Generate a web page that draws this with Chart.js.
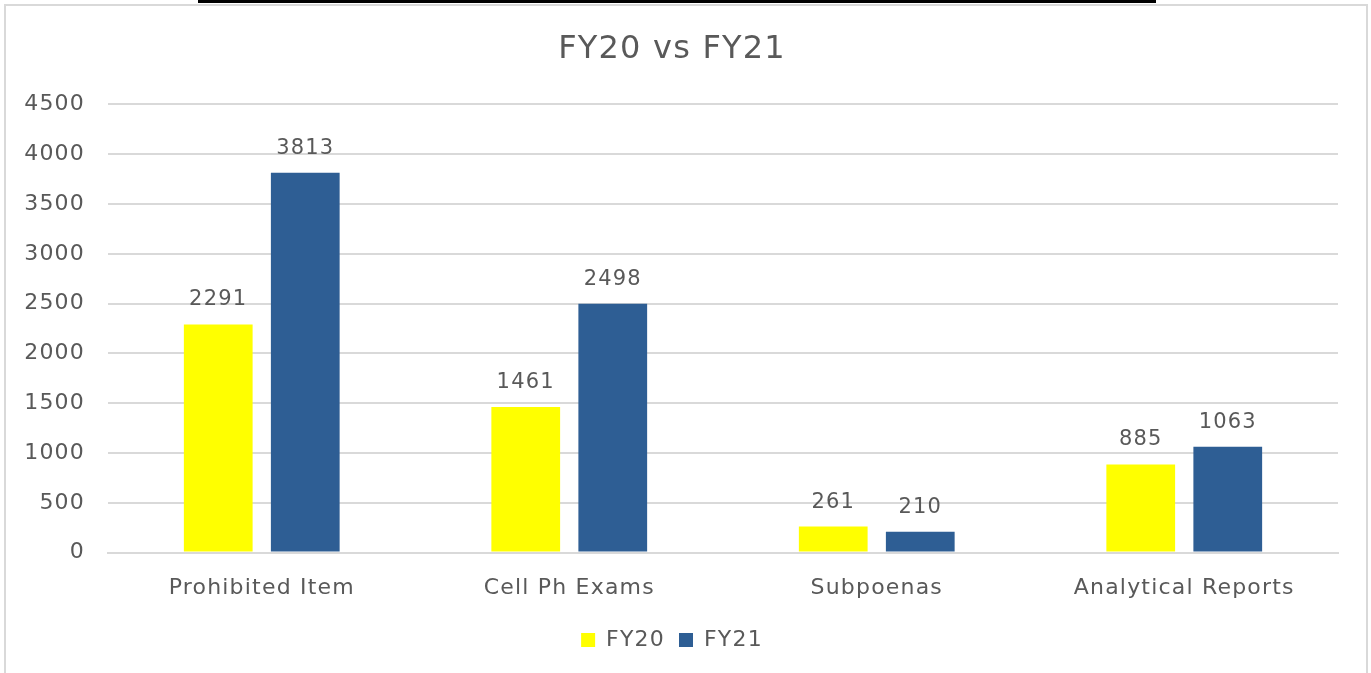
<!DOCTYPE html>
<html>
<head>
<meta charset="utf-8">
<script src="https://cdn.jsdelivr.net/npm/chart.js@4.4.0/dist/chart.umd.min.js"></script>
<style>
  html, body { margin: 0; padding: 0; background: #fff; overflow: hidden; }
  #topline { position: absolute; left: 198px; top: 0; width: 958px; height: 3px; background: #000; }
  #box { position: absolute; left: 4px; top: 4px; width: 1360px; height: 690px; border: 2px solid #d9d9d9; }
  #wrap { position: absolute; left: 0; top: 0; width: 1360px; height: 667px; }
</style>
</head>
<body>
<div id="topline"></div>
<div id="box">
  <div id="wrap"><canvas id="Graphe1"></canvas></div>
</div>
<script>
// data
var categories = ['Prohibited Item', 'Cell Ph Exams', 'Subpoenas', 'Analytical Reports'];
var fy20 = [2291, 1461, 261, 885];
var fy21 = [3813, 2498, 210, 1063];
var seriesNames = ['FY20', 'FY21'];

var textColor = '#595959';
var fontFam = "'DejaVu Sans', 'Open Sans', sans-serif";

// the original font is wider, so space the letters out a bit
var spacing = {
	id: 'spacing',
	beforeUpdate: function (chart) { chart.ctx.letterSpacing = '1.2px'; },
	beforeDraw: function (chart) { chart.ctx.letterSpacing = '1.2px'; }
};

// values above the bars
var barLabels = {
	id: 'barLabels',
	afterDatasetsDraw: function (chart) {
		var ctx = chart.ctx;
		ctx.save();
		ctx.fillStyle = textColor;
		ctx.font = '21px ' + fontFam;
		ctx.textAlign = 'center';
		ctx.textBaseline = 'bottom';
		chart.data.datasets.forEach(function (ds, i) {
			chart.getDatasetMeta(i).data.forEach(function (bar, j) {
				ctx.fillText(ds.data[j], bar.x, bar.y - 14);
			});
		});
		ctx.restore();
	}
};

document.addEventListener('DOMContentLoaded', function () {
	'use strict';

	new Chart(document.getElementById('Graphe1'), {
		type: 'bar',
		data: {
			labels: categories,
			datasets: [
				{
					label: seriesNames[0],
					data: fy20,
					backgroundColor: '#FFFF00',
					borderWidth: 0,
					categoryPercentage: 0.566,
					barPercentage: 0.79
				},
				{
					label: seriesNames[1],
					data: fy21,
					backgroundColor: '#2E5E94',
					borderWidth: 0,
					categoryPercentage: 0.566,
					barPercentage: 0.79
				}
			]
		},
		options: {
			responsive: true,
			maintainAspectRatio: false,
			animation: false,
			layout: {
				padding: { left: 0, right: 28, top: 0, bottom: 12 }
			},
			plugins: {
				title: {
					display: true,
					text: 'FY20 vs FY21',
					color: textColor,
					font: { family: fontFam, size: 32, weight: 'normal', lineHeight: 1.2 },
					padding: { top: 24, bottom: 36 }
				},
				legend: {
					position: 'bottom',
					labels: {
						color: textColor,
						font: { family: fontFam, size: 22 },
						boxWidth: 14,
						boxHeight: 14,
						padding: 14
					}
				},
				tooltip: { enabled: false }
			},
			scales: {
				x: {
					grid: { display: false },
					border: { color: '#d9d9d9', width: 2 },
					ticks: {
						color: textColor,
						font: { family: fontFam, size: 22 },
						padding: 14
					}
				},
				y: {
					min: 0,
					max: 4500,
					border: { display: false },
					grid: { color: '#d9d9d9', lineWidth: 2, drawTicks: false },
					afterFit: function (scale) { scale.width = 102; },
					ticks: {
						stepSize: 500,
						color: textColor,
						font: { family: fontFam, size: 22 },
						padding: 23,
						callback: function (v) { return String(v); }
					}
				}
			}
		},
		plugins: [spacing, barLabels]
	});
});
</script>
</body>
</html>
